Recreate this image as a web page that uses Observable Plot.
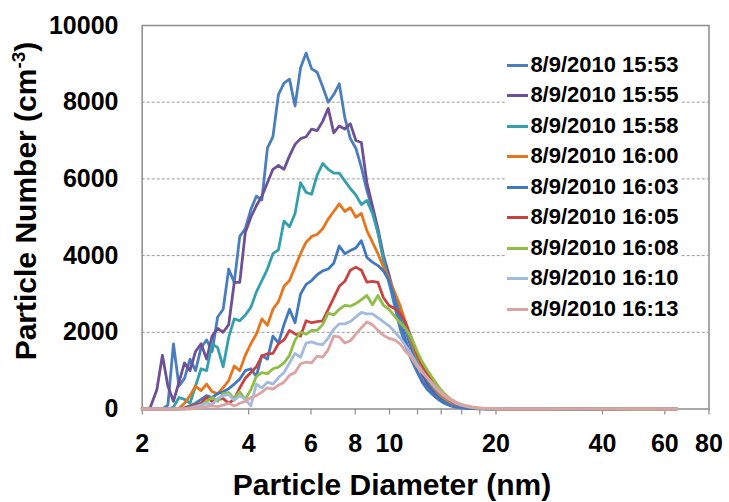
<!DOCTYPE html>
<html>
<head>
<meta charset="utf-8">
<script src="https://cdn.jsdelivr.net/npm/d3@7"></script>
<script src="https://cdn.jsdelivr.net/npm/@observablehq/plot@0.6"></script>
<style>
  html, body { margin: 0; padding: 0; background: white; }
  #wrap { position: relative; width: 729px; height: 502px; font-family: "Liberation Sans", Arial, sans-serif; }
  #legend { position: absolute; left: 506px; top: 49.75px; width: 174px; background: white; }
  .item { display: flex; align-items: center; height: 30.5px; }
  .swatch { width: 21px; height: 3px; margin-left: 0.7px; }
  .lab { margin-left: 2.7px; font-weight: bold; font-size: 22px; color: #000; white-space: nowrap; line-height: 30.5px; }
</style>
</head>
<body>
<div id="wrap"></div>
<script>
// ---- data ----
const series = ["8/9/2010 15:53","8/9/2010 15:55","8/9/2010 15:58","8/9/2010 16:00","8/9/2010 16:03","8/9/2010 16:05","8/9/2010 16:08","8/9/2010 16:10","8/9/2010 16:13"];
const colors = ["#4A7EBF","#6D5096","#34A0AD","#E8751C","#4079C0","#C9423F","#8EBE43","#A2BADD","#DCA3A3"];

const diameters = [2.00,2.10,
 2.200,2.281,2.364,2.451,2.541,2.634,2.730,2.830,2.934,3.041,3.153,3.268,3.388,3.512,3.641,3.774,
 3.912,4.056,4.204,4.358,4.518,4.683,4.855,5.033,5.217,5.408,5.606,5.812,6.024,6.245,6.474,6.711,
 6.957,7.212,7.476,7.750,8.034,8.328,8.633,8.949,9.277,9.617,9.970,10.335,10.713,11.106,11.513,11.934,
 12.372,12.825,13.295,13.782,14.286,14.810,15.352,15.915,16.498,17.102,17.729,18.378,19.051,19.749,20.473,21.223,
 23.6,27.3,31.5,36.4,42.0,48.6,56.1,64.7];

const s1553 = [0,0,
 0,0,100,1700,600,800,1300,1000,1600,1800,1500,2400,2600,3650,3300,4500,
 4700,5200,5550,5450,6800,7100,8200,8500,8600,7900,8900,9280,8870,8780,8400,8000,
 8200,8480,7600,7050,6800,6300,5700,5200,4600,3900,3300,2700,2100,1650,1300,1000,
 750,550,380,250,160,100,60,40,25,15,10,8,5,4,3,2,
 2,1,1,0,0,0,0,0];
const s1555 = [0,0,
 500,1400,600,200,700,1200,1000,1500,1700,1300,1900,2100,2000,2200,3300,3300,
 4600,5000,5300,5550,5900,6250,6350,6250,6600,6900,7050,7100,7300,7260,7500,7840,
 7200,7380,7300,7440,7000,6950,5900,5300,4700,4000,3500,2950,2500,2050,1600,1250,
 900,650,470,330,220,140,85,50,30,18,10,7,5,3,2,2,
 2,1,1,0,0,0,0,0];
const s1558 = [0,0,
 0,0,0,50,300,250,150,600,1050,1000,1700,1600,1100,1870,2350,2300,
 2450,2650,3050,3350,3650,4050,4150,4900,4750,5100,5900,5650,5600,6100,6400,6250,
 6150,6150,5950,5750,5580,5330,5440,5100,4600,3900,3300,2850,2500,2100,1700,1300,
 1000,750,550,380,260,170,100,60,40,25,15,10,6,4,3,2,
 2,1,1,1,0,0,0,0];
const s1600 = [0,0,
 0,0,0,0,20,150,350,600,480,650,450,400,560,740,1120,1000,
 1400,1700,1950,2350,2180,2600,2800,3200,3350,3700,4050,4350,4500,4550,4700,4950,
 5150,5350,5150,5250,5000,5100,4650,4350,4050,3700,3400,3050,2700,2250,1800,1400,
 1100,800,600,420,290,190,120,70,45,25,15,10,6,4,3,2,
 2,2,1,1,0,0,0,0];
const s1603 = [0,0,
 0,0,0,0,0,30,80,150,250,350,300,400,450,530,650,780,
 1000,1050,850,1400,1300,1900,1720,2200,2600,2250,3000,3250,3350,3500,3600,3650,
 3800,4250,4050,4130,4200,4390,3950,3830,3740,3600,3350,2900,2300,1800,1350,1000,
 700,500,360,240,150,90,50,30,15,10,6,4,3,2,1,1,
 1,1,0,0,0,0,0,0];
const s1605 = [0,0,
 0,0,0,0,0,20,60,100,150,300,200,250,270,150,250,550,
 800,950,1100,1380,1440,1450,1700,1800,2050,1960,1900,2300,2250,2280,2300,2600,
 2900,3200,3330,3620,3700,3620,3310,3330,3300,2900,2700,2620,2500,2250,1880,1450,
 1150,900,700,500,350,230,140,90,55,30,20,12,8,5,3,2,
 2,2,1,1,1,0,0,0];
const s1608 = [0,0,
 0,0,0,0,0,0,30,60,100,200,300,200,400,430,270,450,
 250,500,850,950,920,1050,1090,1200,1400,1800,2000,1950,2050,2050,2200,2500,
 2450,2600,2700,2680,2750,2850,2960,2720,2960,2700,2600,2420,2250,2100,1880,1530,
 1230,1000,780,570,400,270,170,110,70,40,25,15,10,6,4,3,
 3,2,1,1,1,0,0,0];
const s1610 = [0,0,
 0,0,0,0,0,0,20,60,100,150,120,270,350,380,220,350,
 250,80,650,550,700,650,820,950,1200,1450,1350,1720,1750,1700,1680,1850,
 2080,2220,2220,2280,2400,2520,2480,2480,2380,2270,2170,2020,1850,1650,1420,1180,
 980,800,620,470,340,240,160,100,65,40,25,15,10,6,4,3,
 3,2,1,1,1,0,0,0];
const s1613 = [0,0,
 0,0,0,0,0,0,0,20,40,60,80,60,100,150,80,150,
 200,300,350,440,550,520,620,700,880,950,1180,1220,1200,1380,1350,1550,
 1900,1880,1720,1780,1950,2120,2270,2200,2050,1920,1840,1800,1700,1500,1350,1120,
 950,800,650,500,370,270,190,130,85,55,35,22,15,10,7,5,
 4,3,2,2,1,1,1,0];

const values = [s1553,s1555,s1558,s1600,s1603,s1605,s1608,s1610,s1613];
const xTickMarks = [2,4,6,8,10,12,14,16,18,20,40,60,80];
const xTickLabels = [2,4,6,8,10,20,40,60,80];
const yTicks = [0,2000,4000,6000,8000,10000];
const yGrid = [2000,4000,6000,8000];
const xTitle = "Particle Diameter (nm)";
const yTitle = ["Particle Number (cm", "-3", ")"];

const rows = series.flatMap((name, k) => diameters.map((d, i) => ({d, v: values[k][i], name})));

const W = 729, H = 502, mT = 25, mB = 93.5;
const chart = Plot.plot({
  width: W, height: H,
  marginLeft: 141.7, marginRight: 20.5, marginTop: mT, marginBottom: mB,
  style: {fontFamily: '"Liberation Sans", Arial, sans-serif', background: "white", color: "black"},
  x: {type: "log", domain: [2, 80], axis: null},
  y: {domain: [0, 10000], axis: null},
  color: {domain: series, range: colors},
  marks: [
    Plot.gridY(yGrid, {stroke: "#9a9a9a", strokeOpacity: 1, strokeDasharray: "3,2", strokeWidth: 1}),
    Plot.frame({stroke: "#8c8c8c", strokeWidth: 1.5}),
    Plot.tickX(xTickMarks, {x: d => d, stroke: "#8c8c8c", strokeWidth: 1.2, insetTop: H - mT - mB, insetBottom: -6}),
    Plot.text(xTickLabels, {x: d => d, text: d => String(d), frameAnchor: "bottom", dy: 34.5, lineAnchor: "middle", fontSize: 25, fontWeight: "bold", fill: "black"}),
    Plot.text(yTicks, {y: d => d, text: d => String(d), frameAnchor: "left", dx: -23.7, textAnchor: "end", lineAnchor: "middle", fontSize: 25, fontWeight: "bold", fill: "black"}),
    Plot.line(rows, {x: "d", y: "v", z: "name", stroke: "name", strokeWidth: 2.8, strokeLinejoin: "round"})
  ]
});

const wrap = document.getElementById("wrap");
wrap.appendChild(chart);

// axis titles
const svg = d3.select(chart);
svg.append("text")
  .attr("x", 392).attr("y", 495)
  .attr("text-anchor", "middle")
  .attr("font-size", 30).attr("font-weight", "bold")
  .attr("font-family", '"Liberation Sans", Arial, sans-serif')
  .attr("fill", "black")
  .text(xTitle);

const yt = svg.append("text")
  .attr("transform", "translate(36,201) rotate(-90)")
  .attr("text-anchor", "middle")
  .attr("font-size", 30).attr("font-weight", "bold")
  .attr("font-family", '"Liberation Sans", Arial, sans-serif')
  .attr("fill", "black");
yt.append("tspan").text(yTitle[0]);
yt.append("tspan").attr("font-size", 19).attr("dy", -11).text(yTitle[1]);
yt.append("tspan").attr("dy", 11).text(yTitle[2]);

// legend
const legend = document.createElement("div");
legend.id = "legend";
series.forEach((name, k) => {
  const item = document.createElement("div");
  item.className = "item";
  const sw = document.createElement("span");
  sw.className = "swatch";
  sw.style.background = colors[k];
  const lab = document.createElement("span");
  lab.className = "lab";
  lab.textContent = name;
  item.appendChild(sw);
  item.appendChild(lab);
  legend.appendChild(item);
});
wrap.appendChild(legend);
</script>
</body>
</html>
